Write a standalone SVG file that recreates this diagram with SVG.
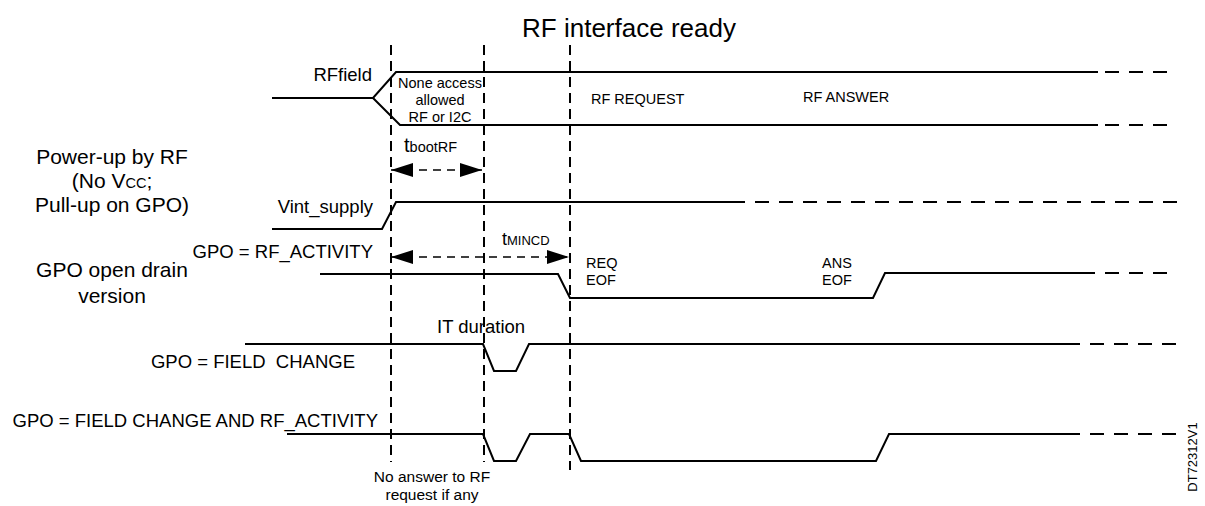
<svg xmlns="http://www.w3.org/2000/svg" width="1205" height="506" viewBox="0 0 1205 506">
<style>
text{font-family:"Liberation Sans",Arial,sans-serif;fill:#000}
.w{fill:none;stroke:#000;stroke-width:2;stroke-linejoin:miter}
.ext{fill:none;stroke:#000;stroke-width:2;stroke-dasharray:14 10}
.v{fill:none;stroke:#000;stroke-width:2;stroke-dasharray:10 6}
.a{fill:none;stroke:#000;stroke-width:1.5;stroke-dasharray:8 6}
.lbl{font-size:18.5px}
.big{font-size:21px}
.sm{font-size:14.5px}
</style>
<defs>
<marker id="ah" viewBox="0 0 22 14" refX="22" refY="7" markerWidth="22" markerHeight="14" markerUnits="userSpaceOnUse" orient="auto-start-reverse">
<path d="M0,0 L22,7 L0,14 Z" fill="#000"/>
</marker>
</defs>
<rect width="1205" height="506" fill="#fff"/>
<text x="629" y="37" font-size="26" text-anchor="middle">RF interface ready</text>

<g id="connectors">
<line class="v" x1="391" y1="45" x2="391" y2="462"/>
<line class="v" x1="484" y1="45" x2="484" y2="462"/>
<line class="v" x1="570" y1="45" x2="570" y2="470"/>
<line class="a" x1="391" y1="170" x2="482" y2="170" marker-start="url(#ah)" marker-end="url(#ah)"/>
<line class="a" x1="391" y1="257" x2="569" y2="257" marker-start="url(#ah)" marker-end="url(#ah)"/>
</g>

<g id="rffield">
<text class="lbl" x="372" y="81" text-anchor="end">RFfield</text>
<polyline class="w" points="272,98 373,98 396,72 1098,72"/>
<polyline class="w" points="373,98 400,125 1098,125"/>
<line class="ext" x1="1105" y1="72" x2="1177" y2="72"/>
<line class="ext" x1="1105" y1="125" x2="1177" y2="125"/>
<text class="sm" text-anchor="middle" x="440" y="88">None access</text>
<text class="sm" text-anchor="middle" x="440" y="105">allowed</text>
<text class="sm" text-anchor="middle" x="440" y="122">RF or I2C</text>
<text class="sm" x="591" y="104">RF REQUEST</text>
<text class="sm" x="803" y="102">RF ANSWER</text>
</g>

<g id="tboot">
<text x="404" y="152" font-size="20">t<tspan font-size="14.5">bootRF</tspan></text>
</g>

<g id="powerup">
<text class="big" text-anchor="middle" x="112" y="164">Power-up by RF</text>
<text class="big" text-anchor="middle" x="112" y="188">(No V<tspan font-size="14.5">CC</tspan>;</text>
<text class="big" text-anchor="middle" x="112" y="212">Pull-up on GPO)</text>
</g>

<g id="vint">
<text class="lbl" x="373" y="213" text-anchor="end">Vint_supply</text>
<polyline class="w" points="272,229 382,229 396,202 745,202"/>
<line class="ext" x1="755" y1="202" x2="1177" y2="202"/>
</g>

<g id="tmincd">
<text x="502" y="245" font-size="18">t<tspan font-size="13">MINCD</tspan></text>
</g>

<g id="gpo-rfactivity">
<text class="lbl" x="373" y="258" text-anchor="end">GPO = RF_ACTIVITY</text>
<text class="big" text-anchor="middle" x="112" y="277">GPO open drain</text>
<text class="big" text-anchor="middle" x="112" y="303">version</text>
<polyline class="w" points="320,274 558,274 570,298 873,298 885,273 1095,273"/>
<line class="ext" x1="1105" y1="273" x2="1177" y2="273"/>
<text class="sm" x="586" y="268">REQ</text>
<text class="sm" x="586" y="285">EOF</text>
<text class="sm" x="822" y="268">ANS</text>
<text class="sm" x="822" y="285">EOF</text>
</g>

<g id="gpo-fieldchange">
<text class="lbl" x="437" y="333">IT duration</text>
<text class="lbl" x="355" y="368" text-anchor="end" xml:space="preserve">GPO = FIELD  CHANGE</text>
<polyline class="w" points="245,344 483,344 494,371 516,371 529,344 1080,344"/>
<line class="ext" x1="1090" y1="344" x2="1177" y2="344"/>
</g>

<g id="gpo-both">
<text class="lbl" x="378" y="427" text-anchor="end">GPO = FIELD CHANGE AND RF_ACTIVITY</text>
<polyline class="w" points="287,434 483,434 494,461 516,461 530,434 569,434 581,461 876,461 889,434 1080,434"/>
<line class="ext" x1="1090" y1="434" x2="1177" y2="434"/>
<text font-size="15.5" text-anchor="middle" x="432" y="482">No answer to RF</text>
<text font-size="15.5" text-anchor="middle" x="432" y="500">request if any</text>
</g>

<text font-size="13" x="1197" y="457" text-anchor="middle" transform="rotate(-90 1197 457)">DT72312V1</text>
</svg>
